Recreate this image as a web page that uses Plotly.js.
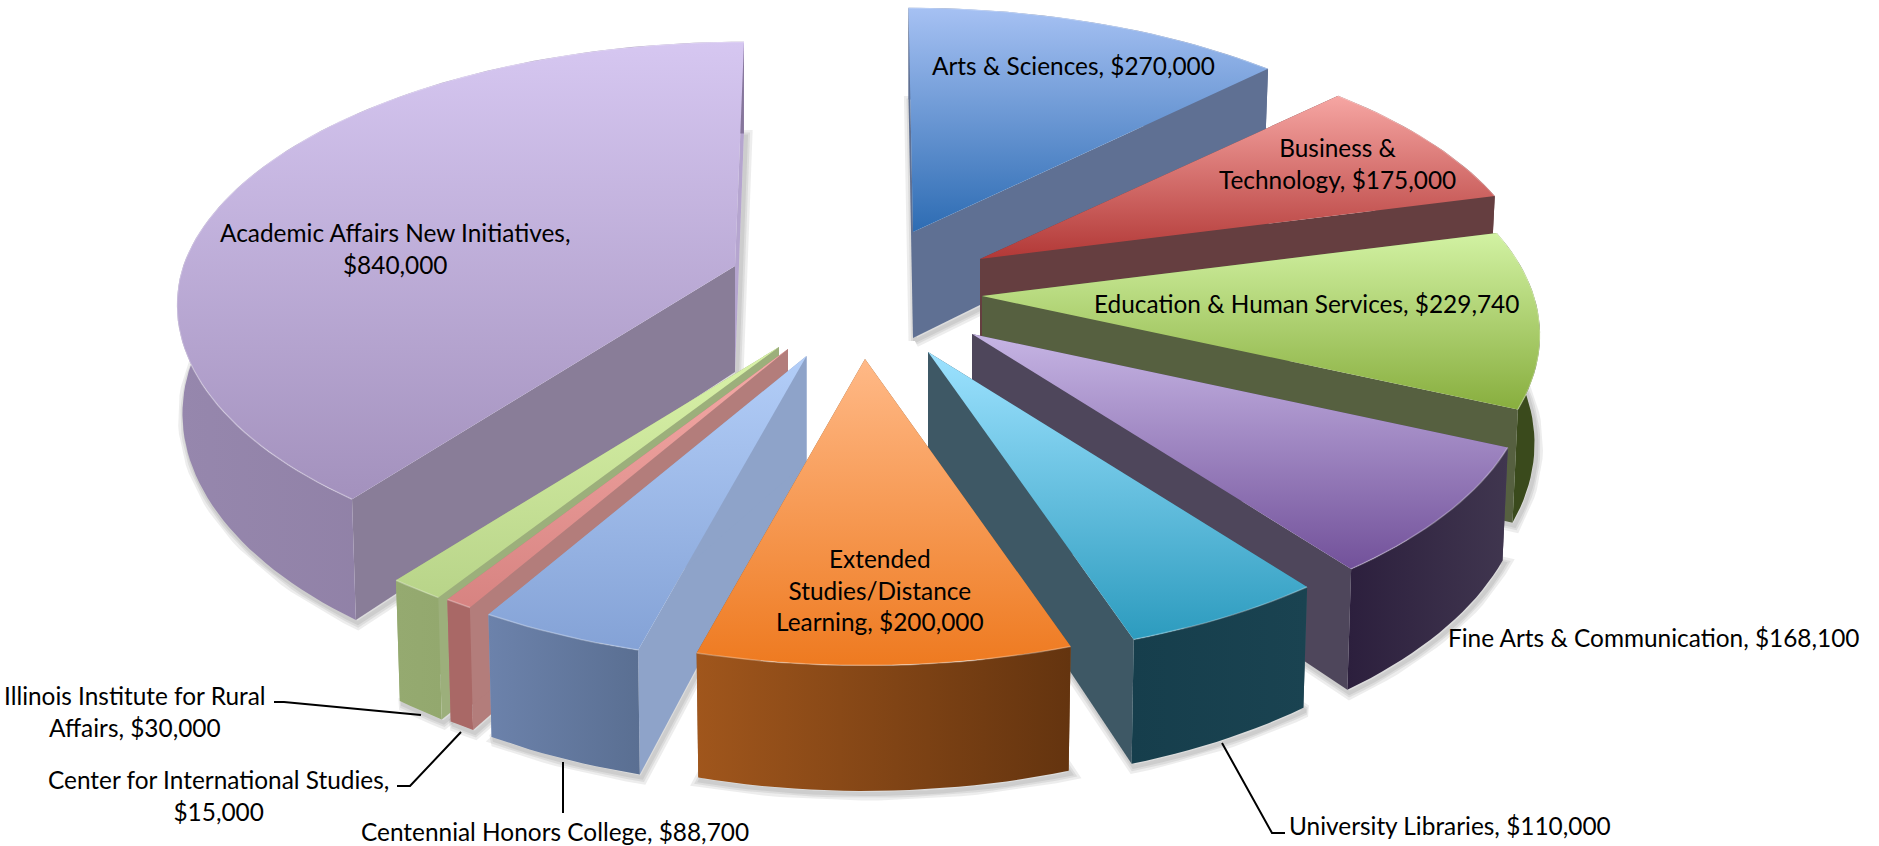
<!DOCTYPE html>
<html>
<head>
<meta charset="utf-8">
<script src="https://cdn.plot.ly/plotly-3.0.1.min.js"></script>
<style>html,body{margin:0;padding:0;background:#fff}#chart{width:1879px;height:846px}</style>
</head>
<body>
<div id="chart"></div>
<script>
// ---- data (clockwise from twelve o'clock) ----
const categories = ["Arts & Sciences","Business & Technology","Education & Human Services","Fine Arts & Communication","University Libraries","Extended Studies/Distance Learning","Centennial Honors College","Center for International Studies","Illinois Institute for Rural Affairs","Academic Affairs New Initiatives"];
const values = [270000,175000,229740,168100,110000,200000,88700,15000,30000,840000];
const labelLines = [
 "Arts & Sciences, $270,000",
 "Business &<br>Technology, $175,000",
 "Education & Human Services, $229,740",
 "Fine Arts & Communication, $168,100",
 "University Libraries, $110,000",
 "Extended<br>Studies/Distance<br>Learning, $200,000",
 "Centennial Honors College, $88,700",
 "Center for International Studies,<br>$15,000",
 "Illinois Institute for Rural<br>Affairs, $30,000",
 "Academic Affairs New Initiatives,<br>$840,000"];

// ---- styles ----
const topTop  = ["#A6C1F3","#F6A6A3","#D2F2A3","#C6B5E4","#9DE2FF","#FFB987","#B3CEF8","#F5ABA7","#DAF3A9","#D6C7F1"];
const topBot  = ["#2D6CB3","#B23836","#88AE3E","#72519A","#2C9BBE","#EE7A20","#84A2D6","#D78381","#B8D489","#A391BD"];
const wallCol = ["#5F7093","#653E40","#566040","#4E465B","#3E5865","#8C5A30","#8EA3C9","#B37D7B","#9CAF7B","#897D98"];
const wallEnd = ["#5F7093","#653E40","#566040","#4E465B","#3E5865","#8C5A30","#8EA3C9","#B37D7B","#9CAF7B","#B5A5CF"];
const outerL  = ["#5F7093","#653E40","#3A4A1C","#2C1F3D","#163E4C","#A0561C","#6C82AB","#A96866","#95AA70","#9687AD"];
const outerR  = ["#5F7093","#653E40","#3A4A1C","#40364F","#1A4351","#64340F","#5A6F92","#A96866","#93A86E","#86769B"];
// exploded tip of every slice, and its small lean at the back of the pie
const tipX = [913,980,982,972,928,865,806.5,788,779,735];
const tipY = [232,259,296,334,352,359,356,349,347,266];
const lean = [-4.5,0,0,0,0,0,0,0,0,9];
// draw order: back to front
const drawOrder = [0,9,1,2,3,8,7,6,4,5];
// perspective of the tilted disc
const RX = 552, RY = 259, KX = 0.1476, KY = 0.155, H = 106, SHRINK = 0.99;
// labels
const labelX = [1073,1337,1306,1654,1450,880,555,218,135,395];
const labelY = [65,163,303,637,825,590,831,795,711,248];
const leaderPaths = [
 "M274,702 L284,702 L421,715",
 "M397,786 L410,786 L461,732",
 "M563,762 L563,813",
 "M1222,743 L1272,833 L1285,833"];

// ---- geometry: every slice comes from its value ----
const total = values.reduce((a,b)=>a+b,0);
function pt(i, th, low){
  const X = Math.sin(th), Y = -Math.cos(th), wx = 1 - KX*Y, wy = 1 - KY*Y;
  let dx = RX*X/wx + lean[i]*Math.max(0,-Y), dy = RY*Y/wy;
  if(low){ dx*=SHRINK; dy+=H/wy; }
  return [tipX[i]+dx, tipY[i]+dy];
}
function tip(i, low){ return [tipX[i], tipY[i]+(low?H:0)]; }
function arc(i,a,b,low){
  const n=Math.max(2,Math.ceil((b-a)/(Math.PI/120))), out=[];
  for(let j=0;j<=n;j++) out.push(pt(i,a+(b-a)*j/n,low));
  return out;
}
function xs(p){return p.map(q=>q[0]);} function ys(p){return p.map(q=>q[1]);}
function base(p){return {type:'scatter',mode:'lines',x:xs(p).concat(p[0][0]),y:ys(p).concat(p[0][1]),hoverinfo:'skip',showlegend:false};}
function solid(p,c){return Object.assign(base(p),{fill:'toself',fillcolor:c,line:{width:0}});}
function grad(p,c0,c1,dir){
  const v = dir==='vertical'?ys(p):xs(p);
  return Object.assign(base(p),{fill:'toself',line:{width:0},
    fillgradient:{type:dir,start:Math.min(...v),stop:Math.max(...v),colorscale:[[0,c0],[1,c1]]}});
}
const starts=[]; let acc=0;
values.forEach(v=>{starts.push(acc); acc+=v/total*2*Math.PI;});
const traces=[];
drawOrder.forEach(i=>{
  const a=starts[i], b=a+values[i]/total*2*Math.PI;
  const upper=arc(i,a,b,false), lower=arc(i,a,b,true);
  // soft shadow
  const sh=[tip(i,true)].concat(lower).map(q=>[q[0]+2,q[1]+3]);
  [13,8,4].forEach(wd=>{
    const t=base(sh); t.line={color:'rgba(50,50,50,0.09)',width:wd}; traces.push(t);
  });
  // radial walls
  traces.push(solid([tip(i,false),pt(i,a,false),pt(i,a,true),tip(i,true)],wallCol[i]));
  traces.push(solid([tip(i,false),pt(i,b,false),pt(i,b,true),tip(i,true)],wallEnd[i]));
  // outer wall
  traces.push(grad(upper.concat(lower.slice().reverse()),outerL[i],outerR[i],'horizontal'));
  // top face
  traces.push(grad([tip(i,false)].concat(upper),topTop[i],topBot[i],'vertical'));
  // light bevel on the rim
  traces.push({type:'scatter',mode:'lines',x:xs(upper),y:ys(upper),hoverinfo:'skip',showlegend:false,
    line:{color:'rgba(255,255,255,0.28)',width:1.5}});
});

const annotations=labelLines.map((t,i)=>({x:labelX[i],y:labelY[i],xref:'x',yref:'y',text:t,showarrow:false,
  xanchor:'center',yanchor:'middle',align:'center',font:{family:'Lato, Carlito, sans-serif',size:24.4,color:'#000'}}));
const shapes=leaderPaths.map(p=>({type:'path',path:p,xref:'x',yref:'y',line:{color:'#000',width:2}}));

Plotly.newPlot('chart',traces,{
  width:1879,height:846,margin:{l:0,r:0,t:0,b:0},showlegend:false,
  paper_bgcolor:'#fff',plot_bgcolor:'#fff',
  xaxis:{range:[0,1879],visible:false,fixedrange:true},
  yaxis:{range:[846,0],visible:false,fixedrange:true},
  annotations,shapes
},{displayModeBar:false,staticPlot:true});
</script>
</body>
</html>
